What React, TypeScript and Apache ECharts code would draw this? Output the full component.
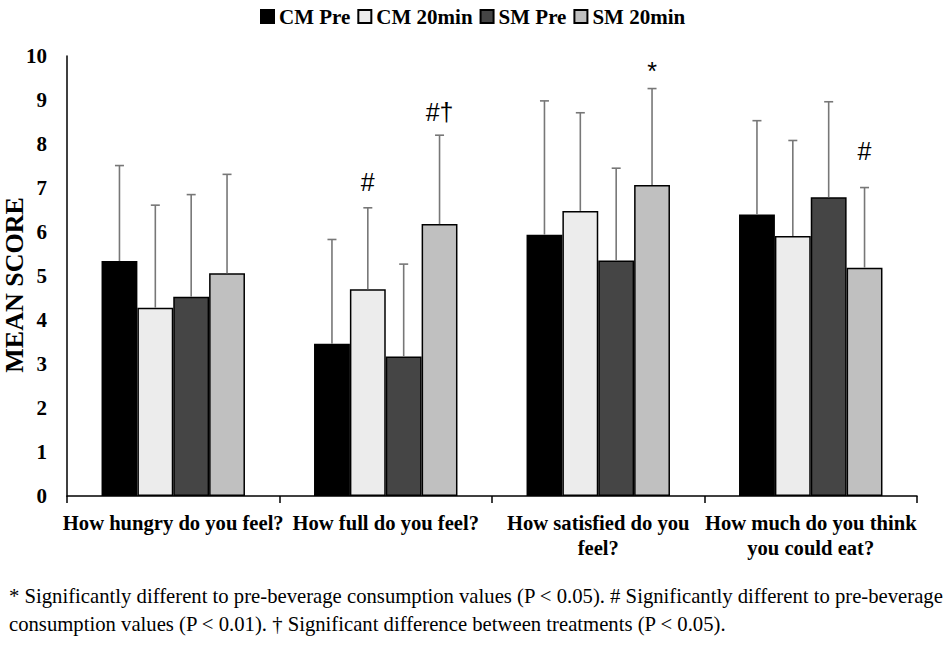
import React, { useEffect, useRef } from "react";
import * as echarts from "echarts";

const categories = [
  "How hungry do you feel?",
  "How full do you feel?",
  "How satisfied do you feel?",
  "How much do you think you could eat?",
];
const categoryLabels = [
  "How hungry do you feel?",
  "How full do you feel?",
  "How satisfied do you\nfeel?",
  "How much do you think\nyou could eat?",
];
const seriesNames = ["CM Pre", "CM 20min", "SM Pre", "SM 20min"];
const cmPre = [5.34, 3.46, 5.94, 6.4];
const cm20 = [4.28, 4.7, 6.48, 5.91];
const smPre = [4.53, 3.17, 5.35, 6.79];
const sm20 = [5.06, 6.18, 7.07, 5.19];
const cmPreSD = [2.17, 2.37, 3.04, 2.13];
const cm20SD = [2.33, 1.85, 2.23, 2.17];
const smPreSD = [2.32, 2.1, 2.1, 2.17];
const sm20SD = [2.25, 2.02, 2.19, 1.82];
const cm20Marks = ["", "#", "", ""];
const cm20MarkAt = [null, 7.14, null, null];
const sm20Marks = ["", "#\u2020", "*", "#"];
const sm20MarkAt = [null, 8.73, 9.66, 7.83];
const emptyMarks = ["", "", "", ""];
const emptyMarkAt = [null, null, null, null];
const yTicks = [0, 1, 2, 3, 4, 5, 6, 7, 8, 9, 10];
const footnoteLines = [
  "* Significantly different to pre-beverage consumption values (P < 0.05). # Significantly different to pre-beverage",
  "consumption values (P < 0.01). \u2020 Significant difference between treatments (P < 0.05).",
];

const colors = ["#000000", "#ececec", "#454545", "#c0c0c0"];
const means = [cmPre, cm20, smPre, sm20];
const sds = [cmPreSD, cm20SD, smPreSD, sm20SD];
const marks = [emptyMarks, cm20Marks, emptyMarks, sm20Marks];
const markAt = [emptyMarkAt, cm20MarkAt, emptyMarkAt, sm20MarkAt];

const GAP = 0.325;
const N = 4;
const SERIF = "Liberation Serif";

export default function App() {
  const ref = useRef<HTMLDivElement>(null);
  useEffect(() => {
    document.body.style.margin = "0";
    if (!ref.current) return;
    const chart = echarts.init(ref.current, undefined, { renderer: "svg" });

    const barSeries = seriesNames.map((name, i) => ({
      name,
      type: "bar",
      data: means[i],
      barCategoryGap: "32.5%",
      barGap: "0%",
      itemStyle: { color: colors[i], borderColor: "#000", borderWidth: 1.5 },
      z: 2,
    }));

    const errSeries = seriesNames.map((name, i) => ({
      name: name + " SD",
      type: "custom",
      z: 3,
      encode: { x: 0, y: 1 },
      data: categories.map((c, j) => [j, means[i][j], sds[i][j], markAt[i][j] == null ? NaN : markAt[i][j]]),
      renderItem: (params: any, api: any) => {
        const cat = api.value(0);
        const mean = api.value(1);
        const sd = api.value(2);
        const markV = api.value(3);
        const base = api.coord([cat, mean]);
        const top = api.coord([cat, mean + sd]);
        const band = api.size([1, 0])[0];
        const groupW = band * (1 - GAP);
        const bw = groupW / N;
        const x = base[0] - groupW / 2 + bw * (i + 0.5);
        const lineStyle = { stroke: "#777777", lineWidth: 1.6 };
        const children: any[] = [
          { type: "line", shape: { x1: x, y1: base[1], x2: x, y2: top[1] }, style: lineStyle },
          { type: "line", shape: { x1: x - 4.5, y1: top[1], x2: x + 4.5, y2: top[1] }, style: lineStyle },
        ];
        const txt = marks[i][params.dataIndex];
        if (txt && !isNaN(markV)) {
          const p = api.coord([cat, markV]);
          children.push({
            type: "text",
            style: {
              text: txt,
              x,
              y: p[1],
              fill: "#000",
              font: "25px 'Liberation Sans'",
              align: "center",
              verticalAlign: "middle",
            },
          });
        }
        return { type: "group", children };
      },
    }));

    chart.setOption({
      animation: false,
      backgroundColor: "#ffffff",
      legend: {
        data: seriesNames.map((n) => ({ name: n, icon: "rect" })),
        top: 1,
        left: 255,
        itemWidth: 13,
        itemHeight: 13,
        itemGap: 7,
        textStyle: { fontFamily: SERIF, fontWeight: "bold", fontSize: 21, color: "#000" },
        selectedMode: false,
      },
      grid: { left: 67, right: 31, top: 56, bottom: 150, outerBoundsMode: "none", containLabel: false },
      xAxis: {
        type: "category",
        data: categories,
        axisLine: { lineStyle: { color: "#000", width: 1.5 } },
        axisTick: { show: true, length: 7, lineStyle: { color: "#000", width: 1.5 } },
        axisLabel: {
          interval: 0,
          margin: 14,
          fontFamily: SERIF,
          fontWeight: "bold",
          fontSize: 20.6,
          lineHeight: 25,
          color: "#000",
          formatter: (v: string) => categoryLabels[categories.indexOf(v)],
        },
      },
      yAxis: {
        type: "value",
        min: 0,
        max: 10,
        interval: 1,
        name: "MEAN SCORE",
        nameLocation: "middle",
        nameRotate: 90,
        nameGap: 40,
        nameMoveOverlap: false,
        nameTextStyle: {
          fontFamily: SERIF,
          fontWeight: "bold",
          fontSize: 26,
          lineHeight: 26,
          color: "#000",
          padding: [0, 18, 0, 0],
        },
        axisLine: { show: true, lineStyle: { color: "#000", width: 1.5 } },
        axisTick: { show: false },
        splitLine: { show: false },
        axisLabel: {
          margin: 20,
          fontFamily: SERIF,
          fontWeight: "bold",
          fontSize: 21,
          color: "#000",
          formatter: (v: number) => (yTicks.includes(v) ? String(v) : ""),
        },
      },
      graphic: footnoteLines.map((t, k) => ({
        type: "text",
        left: 9,
        top: 585 + k * 28,
        style: { text: t, font: `20.7px '${SERIF}'`, fill: "#000" },
      })),
      series: [...barSeries, ...errSeries],
    });
    return () => chart.dispose();
  }, []);
  return <div ref={ref} style={{ width: 948, height: 646 }} />;
}
